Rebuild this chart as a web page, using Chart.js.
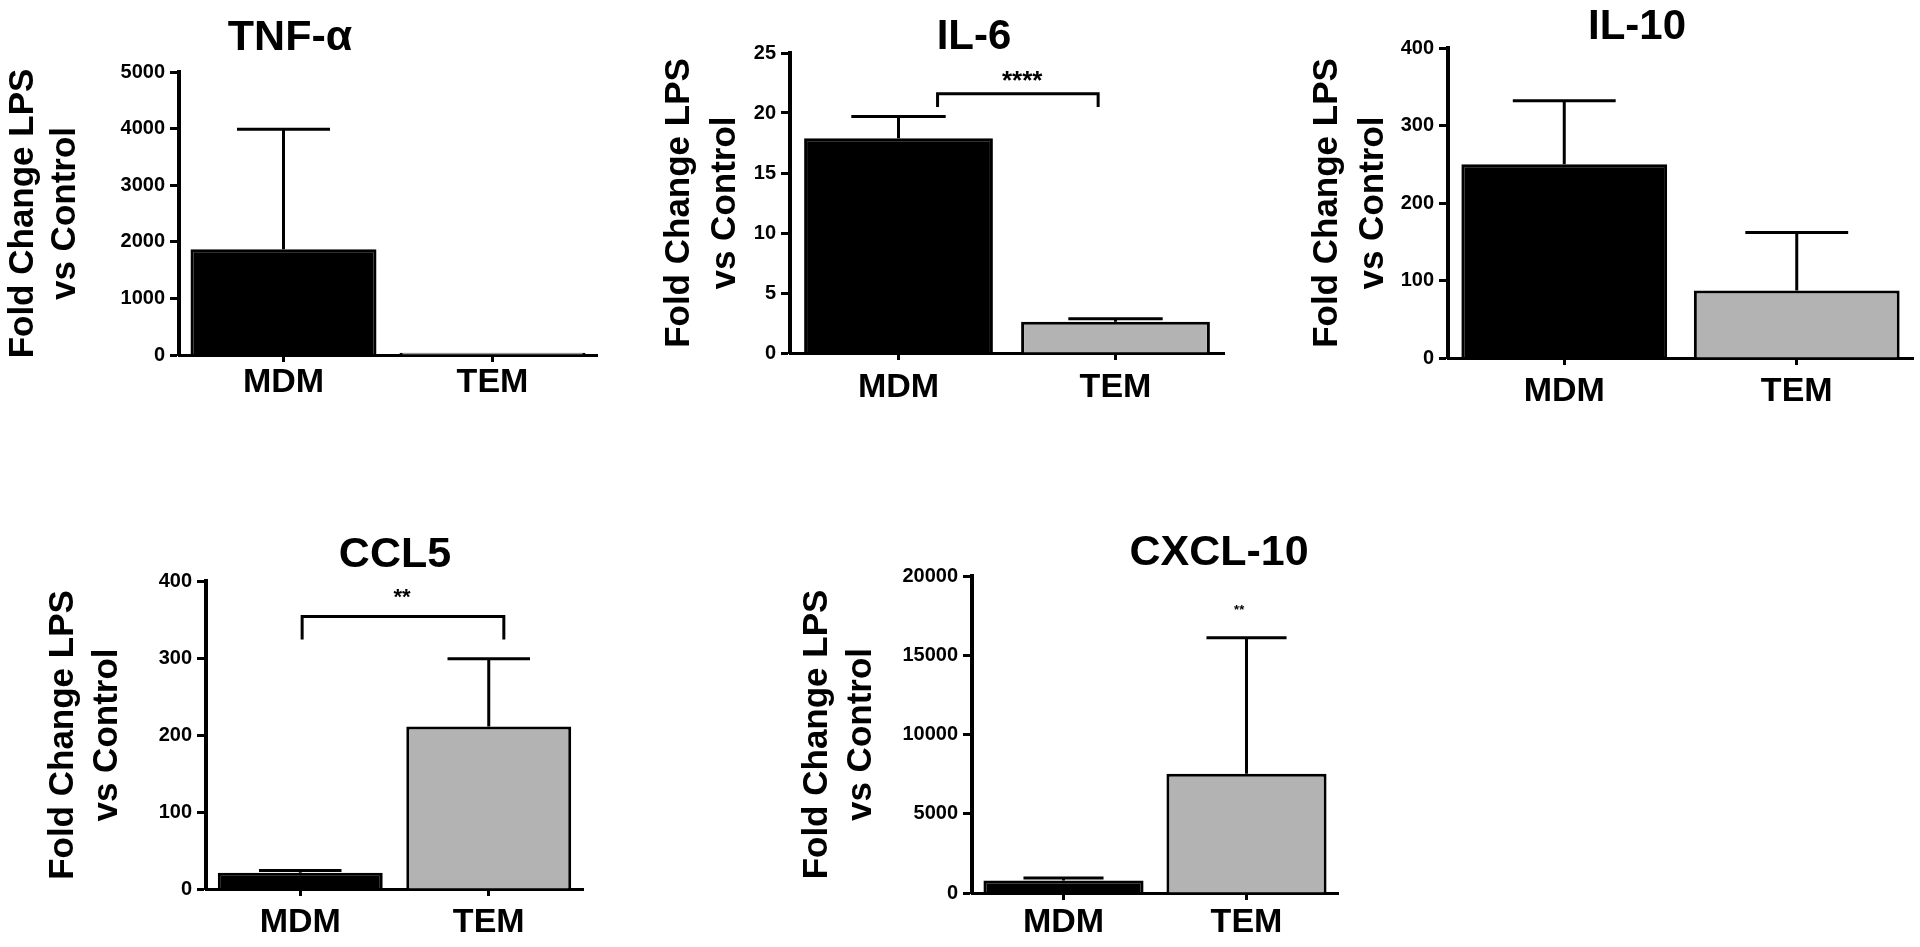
<!DOCTYPE html>
<html>
<head>
<meta charset="utf-8">
<script src="https://cdn.jsdelivr.net/npm/chart.js@4"></script>
<style>
  html, body { margin: 0; padding: 0; background: #fff; overflow: hidden; }
  body { width: 1920px; height: 947px; position: relative; }
  canvas { position: absolute; }
</style>
</head>
<body>
<canvas id="tnf"></canvas>
<canvas id="il6"></canvas>
<canvas id="il10"></canvas>
<canvas id="ccl5"></canvas>
<canvas id="cxcl10"></canvas>
<script>
// grupy makrofagów
const groups = ["MDM", "TEM"];
const barColors = ["#000000", "#b3b3b3"];

// TNF-alpha
const tnfMean = [1870, 40];
const tnfSem = [2120, 0];
const tnfTicks = [0, 1000, 2000, 3000, 4000, 5000];

// IL-6
const il6Mean = [17.9, 2.6];
const il6Sem = [1.8, 0.25];
const il6Ticks = [0, 5, 10, 15, 20, 25];

// IL-10
const il10Mean = [250, 87];
const il10Sem = [82, 75];
const il10Ticks = [0, 100, 200, 300, 400];

// CCL5
const ccl5Mean = [21, 211];
const ccl5Sem = [3, 88];
const ccl5Ticks = [0, 100, 200, 300, 400];

// CXCL-10
const cxclMean = [790, 7520];
const cxclSem = [155, 8580];
const cxclTicks = [0, 5000, 10000, 15000, 20000];

// istotność: [od, do, nóżka, góra] w jednostkach osi
const il6Bracket = [0.18, 0.92, 20.5, 21.6];
const ccl5Bracket = [0.01, 1.08, 324, 354];

const FONT = "'Liberation Sans', Arial, sans-serif";
Chart.defaults.font.family = FONT;
Chart.defaults.color = "#000";

// słupki błędów (tylko w górę)
const errorBars = {
  id: "errorBars",
  afterDatasetsDraw(chart, args, opts) {
    const ctx = chart.ctx;
    const y = chart.scales.y;
    const meta = chart.getDatasetMeta(0);
    const values = chart.data.datasets[0].data;
    ctx.save();
    ctx.strokeStyle = "#000";
    ctx.lineWidth = 3;
    meta.data.forEach((bar, i) => {
      if (!opts.sem || !opts.sem[i]) return;
      const top = y.getPixelForValue(values[i] + opts.sem[i]);
      const half = bar.width / 4;
      ctx.beginPath();
      ctx.moveTo(bar.x, bar.y);
      ctx.lineTo(bar.x, top);
      ctx.moveTo(bar.x - half, top);
      ctx.lineTo(bar.x + half, top);
      ctx.stroke();
    });
    ctx.restore();
  },
};

// klamry i gwiazdki
const sigMarks = {
  id: "sigMarks",
  afterDatasetsDraw(chart, args, opts) {
    const { ctx, scales } = chart;
    const x = scales.x;
    const y = scales.y;
    ctx.save();
    ctx.strokeStyle = "#000";
    ctx.fillStyle = "#000";
    ctx.lineWidth = 3;
    if (opts.bracket) {
      const [from, to, leg, top] = opts.bracket;
      const x1 = x.getPixelForValue(from);
      const x2 = x.getPixelForValue(to);
      const yl = y.getPixelForValue(leg);
      const yt = y.getPixelForValue(top);
      ctx.beginPath();
      ctx.moveTo(x1, yl);
      ctx.lineTo(x1, yt);
      ctx.lineTo(x2, yt);
      ctx.lineTo(x2, yl);
      ctx.stroke();
    }
    if (opts.stars) {
      const s = opts.stars;
      ctx.font = `bold ${s.size}px ${FONT}`;
      ctx.textAlign = "center";
      ctx.textBaseline = "alphabetic";
      ctx.fillText(s.text, x.getPixelForValue(s.at), y.getPixelForValue(s.value) + 0.57 * s.size);
    }
    ctx.restore();
  },
};

// tytuł panelu
const panelTitle = {
  id: "panelTitle",
  afterDraw(chart, args, opts) {
    if (!opts.text) return;
    const ctx = chart.ctx;
    ctx.save();
    ctx.fillStyle = "#000";
    ctx.font = `bold ${opts.size}px ${FONT}`;
    ctx.textAlign = "center";
    ctx.textBaseline = "middle";
    ctx.fillText(opts.text, opts.x, opts.y);
    ctx.restore();
  },
};

function makePanel(id, cfg) {
  const canvas = document.getElementById(id);
  const [bl, bt, br, bb] = cfg.box;
  const [al, at, ar, ab] = cfg.area;
  canvas.width = br - bl;
  canvas.height = bb - bt;
  canvas.style.left = bl + "px";
  canvas.style.top = bt + "px";

  return new Chart(canvas.getContext("2d"), {
    type: "bar",
    data: {
      labels: groups,
      datasets: [
        {
          data: cfg.mean,
          backgroundColor: barColors,
          borderColor: "#000",
          borderWidth: 3,
          barPercentage: cfg.barPct,
          categoryPercentage: 1,
        },
      ],
    },
    options: {
      responsive: false,
      animation: false,
      devicePixelRatio: 1,
      layout: {
        padding: { left: 0, top: at - bt, right: br - ar, bottom: 0 },
      },
      plugins: {
        legend: { display: false },
        tooltip: { enabled: false },
        errorBars: { sem: cfg.sem },
        sigMarks: { bracket: cfg.bracket, stars: cfg.stars },
        panelTitle: {
          text: cfg.title,
          size: cfg.titleSize,
          x: cfg.titleAt[0] - bl,
          y: cfg.titleAt[1] - bt,
        },
      },
      scales: {
        x: {
          offset: true,
          grid: {
            offset: false,
            drawOnChartArea: false,
            drawTicks: true,
            tickLength: 7,
            tickColor: "#000",
            tickWidth: 3,
          },
          border: { display: true, color: "#000", width: 3 },
          ticks: {
            padding: cfg.catPad,
            font: { size: 34, weight: "bold", lineHeight: 1 },
            color: "#000",
          },
          afterFit: (s) => {
            s.height = bb - ab;
          },
        },
        y: {
          min: 0,
          max: cfg.ticks[cfg.ticks.length - 1],
          afterBuildTicks: (s) => {
            s.ticks = cfg.ticks.map((v) => ({ value: v }));
          },
          grid: {
            drawOnChartArea: false,
            drawTicks: true,
            tickLength: 9,
            tickColor: "#000",
            tickWidth: 3,
          },
          border: { display: true, color: "#000", width: 4 },
          ticks: {
            padding: 5,
            font: { size: 20, weight: "bold", family: cfg.tickFamily || FONT },
            color: "#000",
            callback: (v) => String(v),
          },
          title: {
            display: true,
            text: ["Fold Change LPS", "vs Control"],
            font: { size: 35, weight: "bold", lineHeight: cfg.titleLh },
            color: "#000",
            padding: 0,
          },
          afterFit: (s) => {
            s.width = al - bl;
          },
        },
      },
    },
    plugins: [errorBars, sigMarks, panelTitle],
  });
}

makePanel("tnf", {
  box: [3, 0, 607, 415],
  area: [179, 72, 597, 355],
  mean: tnfMean,
  sem: tnfSem,
  ticks: tnfTicks,
  barPct: 0.89,
  title: "TNF-\u03b1",
  titleSize: 43,
  titleAt: [290, 38],
  titleLh: 1.19,
  catPad: 4,
});

makePanel("il6", {
  box: [657, 0, 1234, 413],
  area: [790, 53, 1224, 353],
  mean: il6Mean,
  sem: il6Sem,
  ticks: il6Ticks,
  barPct: 0.87,
  title: "IL-6",
  titleSize: 42,
  titleAt: [974, 37],
  titleLh: 1.3,
  catPad: 11,
  bracket: il6Bracket,
  stars: { text: "****", size: 26, at: 0.57, value: 23.2 },
});

makePanel("il10", {
  box: [1305, 0, 1920, 418],
  area: [1448, 48, 1913, 358],
  mean: il10Mean,
  sem: il10Sem,
  ticks: il10Ticks,
  barPct: 0.885,
  title: "IL-10",
  titleSize: 42,
  titleAt: [1637, 27],
  titleLh: 1.3,
  catPad: 10,
});

makePanel("ccl5", {
  box: [42, 500, 593, 947],
  area: [206, 581, 583, 889],
  mean: ccl5Mean,
  sem: ccl5Sem,
  ticks: ccl5Ticks,
  barPct: 0.875,
  title: "CCL5",
  titleSize: 43,
  titleAt: [395, 555],
  titleLh: 1.24,
  catPad: 10,
  bracket: ccl5Bracket,
  stars: { text: "**", size: 22, at: 0.54, value: 386 },
});

makePanel("cxcl10", {
  box: [796, 500, 1348, 947],
  area: [972, 576, 1338, 893],
  mean: cxclMean,
  sem: cxclSem,
  ticks: cxclTicks,
  barPct: 0.875,
  title: "CXCL-10",
  titleSize: 43,
  titleAt: [1219, 553],
  titleLh: 1.24,
  tickFamily: "'Liberation Sans Narrow', " + FONT,
  catPad: 6,
  stars: { text: "**", size: 13, at: 0.96, value: 18070 },
});
</script>
</body>
</html>
